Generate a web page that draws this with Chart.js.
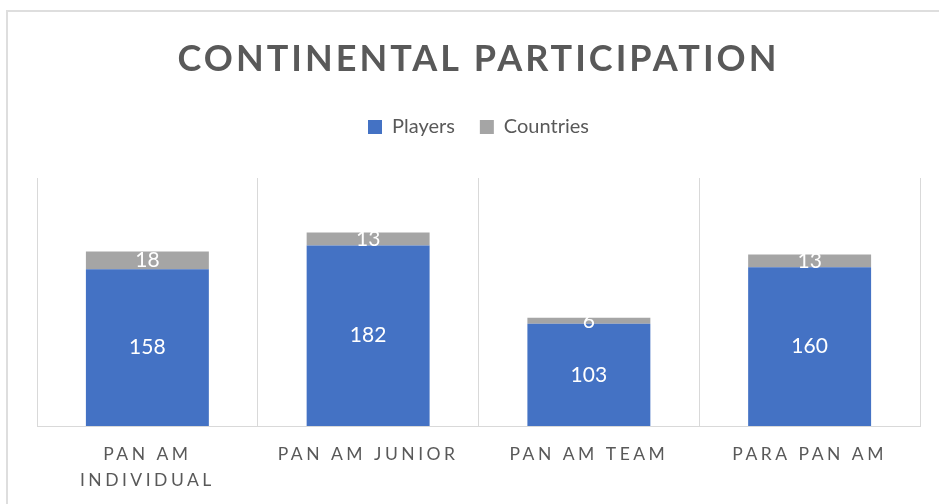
<!DOCTYPE html>
<html>
<head>
<meta charset="utf-8">
<script src="https://cdn.jsdelivr.net/npm/chart.js@4"></script>
<style>
  html, body { margin: 0; padding: 0; background: #fff; overflow: hidden; }
  #wrap { position: relative; width: 939px; height: 504px; }
  #frame { position: absolute; left: 6px; top: 10px; width: 1000px; height: 1000px;
           border-left: 2px solid #dedede; border-top: 2px solid #dedede; box-sizing: border-box; }
  canvas { position: absolute; left: 0; top: 0; }
</style>
</head>
<body>
<div id="wrap">
  <div id="frame"></div>
  <canvas id="chart" width="939" height="504"></canvas>
</div>
<script>
// continental participation - stacked bars
var categories = [['PAN AM', 'INDIVIDUAL'], 'PAN AM JUNIOR', 'PAN AM TEAM', 'PARA PAN AM'];
var players = [158, 182, 103, 160];
var countries = [18, 13, 6, 13];

var textGrey = '#595959';
var font = 'Lato, "Open Sans", sans-serif';

// white value labels in the middle of each segment
var valueLabels = {
  id: 'valueLabels',
  afterDatasetsDraw: function(chart) {
    var ctx = chart.ctx;
    ctx.save();
    ctx.fillStyle = '#ffffff';
    ctx.font = '21px ' + font;
    ctx.textAlign = 'center';
    ctx.textBaseline = 'middle';
    chart.data.datasets.forEach(function(ds, i) {
      chart.getDatasetMeta(i).data.forEach(function(bar, j) {
        var p = bar.getProps(['x', 'y', 'base'], true);
        ctx.fillText(ds.data[j], p.x, (p.y + p.base) / 2);
      });
    });
    ctx.restore();
  }
};

// letter spacing for title and category labels, extra room under legend
var spacing = {
  id: 'spacing',
  afterInit: function(chart) {
    var t = chart.titleBlock;
    var drawTitle = t.draw;
    t.draw = function() {
      this.ctx.save();
      this.ctx.letterSpacing = '3px';
      drawTitle.apply(this, arguments);
      this.ctx.restore();
    };
    var lg = chart.legend;
    var fitLegend = lg.fit;
    lg.fit = function() {
      fitLegend.apply(this, arguments);
      this.height += 31;
    };
  },
  beforeDraw: function(chart) {
    var x = chart.scales.x;
    if (x._spaced) return;
    var drawLabels = x.drawLabels;
    x.drawLabels = function() {
      this.ctx.save();
      this.ctx.letterSpacing = '3.5px';
      drawLabels.apply(this, arguments);
      this.ctx.restore();
    };
    x._spaced = true;
  }
};

var ctx = document.getElementById('chart');
var chart = new Chart(ctx, {
  type: 'bar',
  data: {
    labels: categories,
    datasets: [
      {
        label: 'Players',
        data: players,
        backgroundColor: '#4472C4',
        borderWidth: 0,
        barPercentage: 0.557,
        categoryPercentage: 1
      },
      {
        label: 'Countries',
        data: countries,
        backgroundColor: '#A5A5A5',
        borderWidth: 0,
        barPercentage: 0.557,
        categoryPercentage: 1
      }
    ]
  },
  options: {
    responsive: false,
    animation: false,
    layout: {
      padding: { left: 37, right: 19, top: 21 }
    },
    plugins: {
      title: {
        display: true,
        text: 'CONTINENTAL PARTICIPATION',
        color: textGrey,
        font: { family: font, size: 36, weight: 'bold', lineHeight: 1 },
        padding: { top: 20, bottom: 15 }
      },
      legend: {
        position: 'top',
        labels: {
          color: textGrey,
          font: { family: font, size: 20 },
          boxWidth: 14,
          boxHeight: 14,
          padding: 25
        }
      },
      tooltip: { enabled: false }
    },
    scales: {
      x: {
        stacked: true,
        grid: { color: '#D9D9D9', drawTicks: false, offset: true },
        border: { color: '#D9D9D9' },
        ticks: {
          color: textGrey,
          font: { family: font, size: 17.5, lineHeight: 1.5 },
          padding: 15,
          maxRotation: 0,
          autoSkip: false
        },
        afterFit: function(scale) { scale.height = 78; }
      },
      y: {
        stacked: true,
        display: false,
        min: 0,
        max: 250
      }
    }
  },
  plugins: [valueLabels, spacing]
});
</script>
</body>
</html>
